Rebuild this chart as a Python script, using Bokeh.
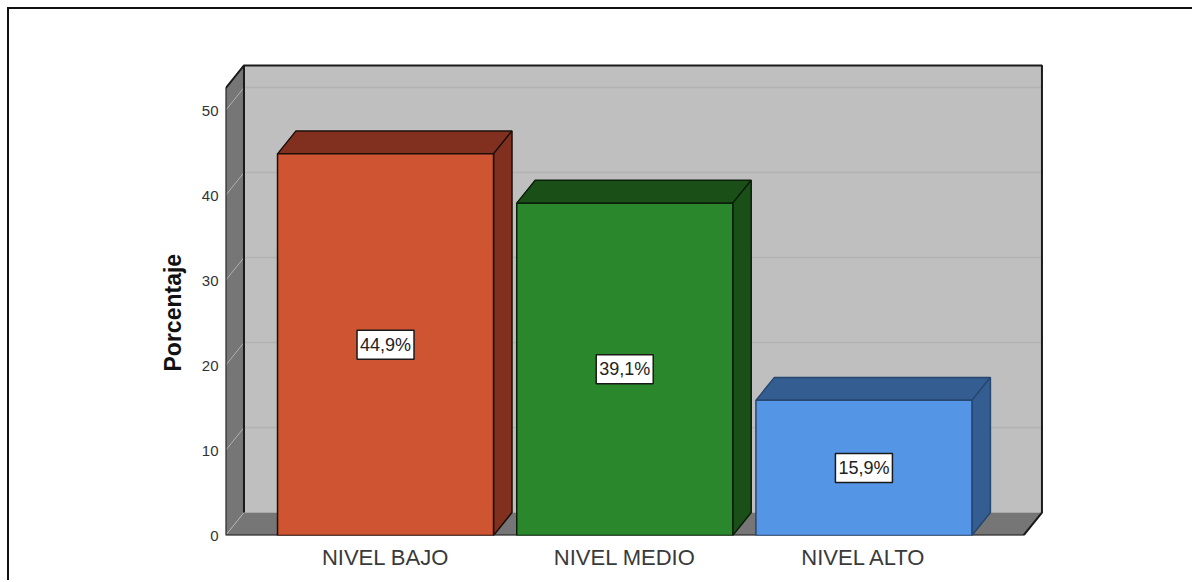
from bokeh.embed import file_html
from bokeh.models import FixedTicker, Range1d, Title
from bokeh.plotting import figure
from bokeh.resources import INLINE

categories = ["NIVEL BAJO", "NIVEL MEDIO", "NIVEL ALTO"]
percentages = [44.9, 39.1, 15.9]
y_ticks = [0, 10, 20, 30, 40, 50]
front_colors = ["#cf5431", "#2a872b", "#5595e6"]
side_colors = ["#81301f", "#1a5018", "#345d91"]
edge_colors = ["#1c0f0a", "#0b1f0a", "#27476f"]

# Extents of the box, in category and percentage units
BAR_WIDTH = 0.903
DEPTH_X = 0.0773
DEPTH_Y = 2.7
BOX_LEFT = 0.331
BOX_RIGHT = 3.667
BOX_TOP = 52.6

p = figure(
    width=1185,
    height=573,
    margin=(9, 0, 0, 9),
    output_backend="svg",
    toolbar_location=None,
    x_range=Range1d(BOX_LEFT, 3.78),
    y_range=Range1d(0, 56),
    min_border_left=216,
    min_border_right=144,
    min_border_top=50,
    min_border_bottom=47,
    outline_line_color=None,
    background_fill_color="white",
    border_fill_color="white",
)
p.grid.visible = False

# Page frame along the top and left edges of the figure
p.styles = {"box-shadow": "-2px -2px 0 0 #111111"}

# Back wall, side wall and floor of the box
wall_xs = [BOX_LEFT + DEPTH_X, BOX_RIGHT + DEPTH_X, BOX_RIGHT + DEPTH_X, BOX_LEFT + DEPTH_X]
wall_ys = [DEPTH_Y, DEPTH_Y, BOX_TOP + DEPTH_Y, BOX_TOP + DEPTH_Y]
p.patch(wall_xs, wall_ys, fill_color="#bfbfbf", line_color=None)
p.patch([BOX_LEFT, BOX_LEFT + DEPTH_X, BOX_LEFT + DEPTH_X, BOX_LEFT],
        [0, DEPTH_Y, BOX_TOP + DEPTH_Y, BOX_TOP], fill_color="#767676", line_color=None)
p.patch([BOX_LEFT, BOX_RIGHT, BOX_RIGHT + DEPTH_X, BOX_LEFT + DEPTH_X],
        [0, 0, DEPTH_Y, DEPTH_Y], fill_color="#767676", line_color=None)

# Grid lines running along the side wall and across the back wall
for tick in y_ticks:
    if tick > 0:
        p.line([BOX_LEFT + DEPTH_X, BOX_RIGHT + DEPTH_X], [tick + DEPTH_Y] * 2, line_color="#b2b2b2", line_width=1.5)
    p.line([BOX_LEFT, BOX_LEFT + DEPTH_X], [tick, tick + DEPTH_Y], line_color="#b0b0b0", line_width=1)

# Box edges
p.line([BOX_LEFT, BOX_LEFT, BOX_LEFT + DEPTH_X, BOX_RIGHT + DEPTH_X, BOX_RIGHT + DEPTH_X, BOX_RIGHT, BOX_LEFT],
       [0, BOX_TOP, BOX_TOP + DEPTH_Y, BOX_TOP + DEPTH_Y, DEPTH_Y, 0, 0], line_color="#1a1a1a", line_width=2)
p.line([BOX_LEFT + DEPTH_X, BOX_LEFT + DEPTH_X], [DEPTH_Y, BOX_TOP + DEPTH_Y], line_color="#1a1a1a", line_width=2)

# Extruded bars
for i, value in enumerate(percentages):
    center = i + 1
    left = center - BAR_WIDTH / 2
    right = center + BAR_WIDTH / 2
    p.patch([left, left + DEPTH_X, right + DEPTH_X, right],
            [value, value + DEPTH_Y, value + DEPTH_Y, value],
            fill_color=side_colors[i], line_color=edge_colors[i], line_width=1.5)
    p.patch([right, right + DEPTH_X, right + DEPTH_X, right],
            [0, DEPTH_Y, value + DEPTH_Y, value],
            fill_color=side_colors[i], line_color=edge_colors[i], line_width=1.5)
    p.patch([left, right, right, left], [0, 0, value, value],
            fill_color=front_colors[i], line_color=edge_colors[i], line_width=1.5)

# Value labels in white boxes at mid height of each bar
centers = [i + 1 for i in range(len(percentages))]
mids = [v / 2 for v in percentages]
labels = [f"{v:.1f}%".replace(".", ",") for v in percentages]
p.rect(centers, mids, width=57, height=29, width_units="screen", height_units="screen",
       fill_color="white", line_color="#1a1a1a", line_width=1.5)
p.text(centers, mids, text=labels, text_align="center", text_baseline="middle",
       text_font={"value": "Liberation Sans"}, text_font_size="18px", text_color="#222222")

# Axes
p.yaxis.ticker = FixedTicker(ticks=y_ticks)
p.yaxis.axis_line_color = None
p.yaxis.major_tick_line_color = None
p.yaxis.minor_tick_line_color = None
p.yaxis.major_label_standoff = 1
p.yaxis.major_label_text_font = "Liberation Sans"
p.yaxis.major_label_text_font_size = "15px"
p.yaxis.major_label_text_color = "#333333"

p.xaxis.ticker = FixedTicker(ticks=centers)
p.xaxis.major_label_overrides = {c: name for c, name in zip(centers, categories)}
p.xaxis.axis_line_color = None
p.xaxis.major_tick_line_color = None
p.xaxis.minor_tick_line_color = None
p.xaxis.major_label_standoff = 3
p.xaxis.major_label_text_font = "Liberation Sans"
p.xaxis.major_label_text_font_size = "22px"
p.xaxis.major_label_text_color = "#3a3a3a"

# Vertical axis title, set lower than the middle of the box
p.add_layout(Title(text="Porcentaje", align="left", offset=164, standoff=26, text_font="Liberation Sans",
                   text_font_style="bold", text_font_size="23px", text_color="#111111"), "left")

open("out.html", "w").write(file_html(p, INLINE))
